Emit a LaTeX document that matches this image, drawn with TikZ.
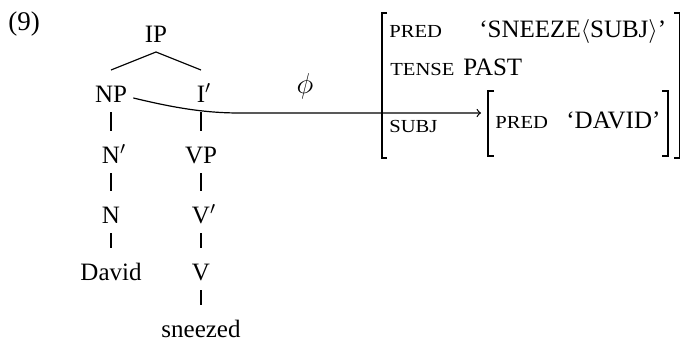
\documentclass[tikz,border=0pt]{standalone}
\usepackage{fontspec}
\setmainfont{Liberation Serif}
\newfontfamily\scfont[FakeStretch=1.12]{Liberation Serif}
\newcommand\attrsc[1]{{\scfont\fontsize{9.2}{10}\selectfont #1}}
\begin{document}
\begin{tikzpicture}[x=0.5pt,y=-0.5pt,
  every node/.style={font=\fontsize{12.5}{15}\selectfont},
  tn/.style={anchor=base, text height=11pt, text depth=0pt, inner xsep=3pt, inner ysep=4.8pt},
  av/.style={anchor=base west, inner sep=0pt},
  br/.style={line width=0.8pt},
  edge/.style={line width=0.6pt}]
\useasboundingbox (0,0) rectangle (681,343);
% example number
\node[anchor=base west, inner sep=0pt, font=\fontsize{13.5}{16}\selectfont] (ex) at (8,30) {(9)};
% tree
\node[tn] (IP) at (156,42) {IP};
\node[tn] (NP) at (111,102) {NP};
\node[tn] (Ib) at (201,102) {I\rlap{$'$}};
\node[tn] (Nb) at (111,163) {N\rlap{$'$}};
\node[tn] (VP) at (201,163) {VP};
\node[tn] (N) at (111,223) {N};
\node[tn] (Vb) at (201,223) {V\rlap{$'$}};
\node[tn] (David) at (111,280) {David};
\node[tn] (V) at (201,280) {V};
\node[tn] (sneezed) at (201,337) {sneezed};
\draw[edge] (IP.south) -- (NP.north);
\draw[edge] (IP.south) -- (Ib.north);
\draw[edge] (NP.south) -- (Nb.north);
\draw[edge] (Nb.south) -- (N.north);
\draw[edge] (N.south) -- (David.north);
\draw[edge] (Ib.south) -- (VP.north);
\draw[edge] (VP.south) -- (Vb.north);
\draw[edge] (Vb.south) -- (V.north);
\draw[edge] (V.south) -- (sneezed.north);
% phi label
\node[font=\fontsize{14}{16}\selectfont] (phi) at (305,86) {$\phi$};
% AVM brackets
\draw[br] (387,13) -| (381.7,158) -- (387,158);
\draw[br] (674,13) -| (679.4,158) -- (674,158);
\draw[br] (494,91) -| (488,156) -- (494,156);
\draw[br] (662,91) -| (668,156) -- (662,156);
% AVM contents
\node[av] (pred1) at (389,37.5) {\attrsc{PRED}};
\node[av] (sneeze) at (479,37.5) {`SNEEZE$\langle$SUBJ$\rangle$'};
\node[av] (tense) at (390,75) {\attrsc{TENSE}};
\node[av] (past) at (463,75) {PAST};
\node[av] (subj) at (389,132) {\attrsc{SUBJ}};
\node[av] (pred2) at (495,128.5) {\attrsc{PRED}};
\node[av] (david) at (566,128.5) {`DAVID'};
% correspondence arrow
\coordinate (tip) at (481,113);
\draw[edge,->] ([yshift=-3.5pt]NP.east) .. controls (175,108) and (205,113) .. (240,113) -- (tip);
\end{tikzpicture}
\end{document}
